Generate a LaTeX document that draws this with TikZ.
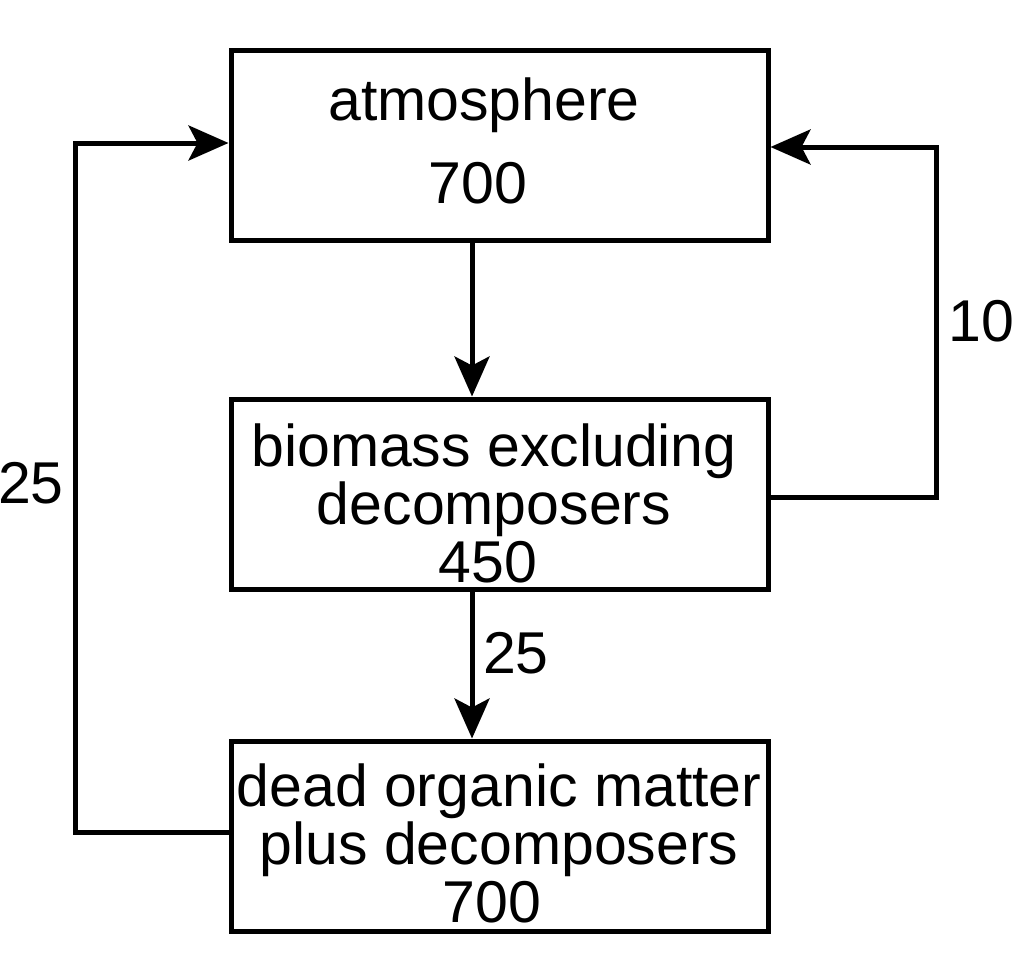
\documentclass[tikz,border=0pt]{standalone}
\usepackage{fontspec}
\setmainfont{Liberation Sans}
\usetikzlibrary{arrows.meta}
\begin{document}
\begin{tikzpicture}[x=1pt,y=-1pt,
  line width=5pt,
  box/.style={draw, line width=5pt, minimum width=537pt, minimum height=190pt, inner sep=0pt, align=center, font=\fontsize{59}{58}\selectfont},
  lbl/.style={font=\fontsize{59}{58}\selectfont, inner sep=0pt},
  arr/.style={-{Stealth[length=40pt,width=35pt,inset=9pt]}, line width=5pt}]
\useasboundingbox (0,0) rectangle (1024,972);
\node[box] (atm) at (499.5,145) {};
\node[lbl] (atmt) at (484,105) {atmosphere};
\node[lbl] (atmn) at (478,183) {700};
\node[box] (bio) at (499.5,494) {};
\node[lbl, align=center] (biot) at (494,503) {biomass excluding\\decomposers\hspace*{10pt}\\450\hspace*{12pt}};
\node[box] (dead) at (499.5,836) {};
\node[lbl, align=center] (deadt) at (499,843) {dead organic matter\\plus decomposers\hspace*{3pt}\\700\hspace*{14pt}};
\coordinate (c1) at (936,497);
\coordinate (c2) at (936,147);
\coordinate (c3) at (75,832);
\coordinate (c4) at (75,143);
\draw[arr] (atm.south -| 472,0) -- (bio.north -| 472,0);
\draw[arr] (bio.south -| 472,0) -- (dead.north -| 472,0);
\draw[arr] (bio.east |- c1) -- (c1) -- (c2) -- (atm.east |- c2);
\draw[arr] (dead.west |- c3) -- (c3) -- (c4) -- (atm.west |- c4);
\node[lbl] (l10) at (981,321) {10};
\node[lbl] (l25a) at (516,653) {25};
\node[lbl] (l25b) at (31,483) {25};
\end{tikzpicture}
\end{document}
